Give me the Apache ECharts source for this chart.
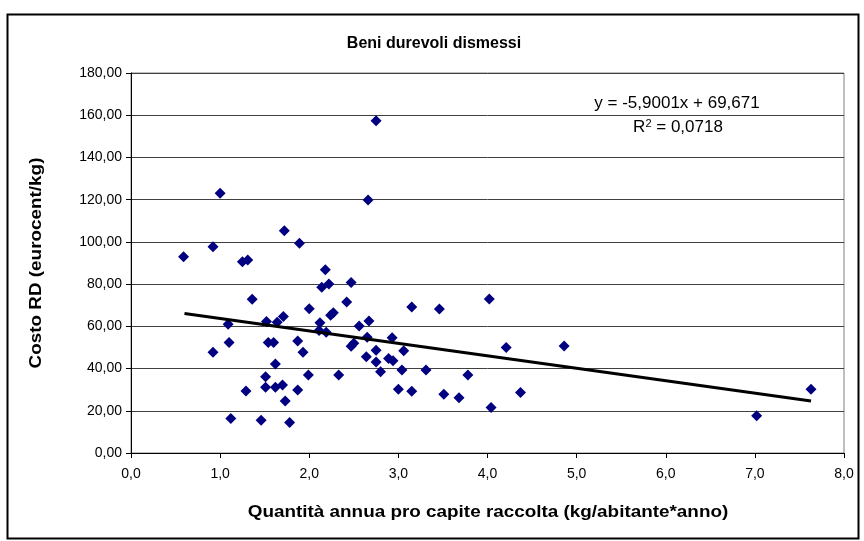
<!DOCTYPE html>
<html>
<head>
<meta charset="utf-8">
<script src="https://cdn.jsdelivr.net/npm/echarts@6/dist/echarts.min.js"></script>
<style>html,body{margin:0;padding:0;background:#fff}#c{width:864px;height:541px}</style>
</head>
<body>
<div id="c"></div>
<script>
// Data
const xValues = [0.59,0.92,1.00,0.92,1.09,1.10,1.12,1.25,1.31,1.29,1.36,1.46,1.51,1.51,1.52,1.54,1.60,1.62,1.62,1.64,1.70,1.71,1.72,1.73,1.78,1.87,1.87,1.89,1.93,1.99,2.00,2.12,2.11,2.19,2.14,2.22,2.18,2.24,2.27,2.33,2.42,2.47,2.47,2.50,2.56,2.65,2.64,2.66,2.67,2.75,2.75,2.75,2.80,2.89,2.94,2.93,3.00,3.04,3.06,3.15,3.15,3.31,3.46,3.51,3.68,3.78,4.02,4.04,4.21,4.37,4.86,7.02,7.63];
const yValues = [93.0,97.7,123.0,47.7,61.0,52.4,16.3,90.6,91.4,29.4,72.8,15.5,36.1,31.1,62.3,52.4,52.4,42.2,31.1,61.9,32.2,64.6,105.3,24.6,14.5,53.1,29.8,99.3,47.7,36.9,68.3,61.7,58.0,57.2,78.5,80.1,86.8,65.3,66.4,36.9,71.5,80.8,50.6,52.0,60.1,54.8,45.6,119.8,62.5,157.4,48.7,43.1,38.5,44.8,43.7,54.6,30.2,39.3,48.4,69.2,29.2,39.3,68.2,27.8,26.2,37.0,73.0,21.6,50.0,28.6,50.7,17.7,30.2];
const trendSlope = -5.9001;
const trendIntercept = 69.671;
const trendRange = [0.6, 7.63];
const xTicks = ['0,0','1,0','2,0','3,0','4,0','5,0','6,0','7,0','8,0'];
const yTicks = ['0,00','20,00','40,00','60,00','80,00','100,00','120,00','140,00','160,00','180,00'];
const chartTitle = 'Beni durevoli dismessi';
const xName = 'Quantità annua pro capite raccolta (kg/abitante*anno)';
const yName = 'Costo RD (eurocent/kg)';
const eqText = 'y = -5,9001x + 69,671';
const r2Text = '0,0718';

const points = xValues.map((x, i) => [x, yValues[i]]);
const trend = trendRange.map(x => [x, trendSlope * x + trendIntercept]);

const chart = echarts.init(document.getElementById('c'), null, {renderer: 'canvas'});
const font = 'Liberation Sans, Arial, sans-serif';
chart.setOption({
  animation: false,
  backgroundColor: '#fff',
  grid: {left: 131, top: 73, width: 713, height: 380, show: true, borderColor: '#808080', borderWidth: 1, containLabel: false},
  xAxis: {
    type: 'value', min: 0, max: 8, interval: 1,
    axisLine: {show: true, onZero: false, lineStyle: {color: '#000', width: 1}},
    axisTick: {show: true, inside: false, length: 5, lineStyle: {color: '#000'}},
    splitLine: {show: false},
    axisLabel: {color: '#000', fontFamily: font, fontSize: 14, margin: 14,
      formatter: v => xTicks[Math.round(v)]}
  },
  yAxis: {
    type: 'value', min: 0, max: 180, interval: 20,
    axisLine: {show: true, onZero: false, lineStyle: {color: '#000', width: 1}},
    axisTick: {show: true, inside: false, length: 5, lineStyle: {color: '#000'}},
    splitLine: {show: true, lineStyle: {color: '#404040', width: 1}},
    axisLabel: {color: '#000', fontFamily: font, fontSize: 14, margin: 9,
      formatter: v => yTicks[Math.round(v / 20)]}
  },
  series: [
    {type: 'scatter', data: points, symbol: 'diamond', symbolSize: 11,
     itemStyle: {color: '#000080', opacity: 1}, z: 2},
    {type: 'line', data: trend, showSymbol: false, symbol: 'none',
     lineStyle: {color: '#000', width: 3}, z: 3, silent: true}
  ],
  graphic: [
    {type: 'rect', shape: {x: 7.5, y: 14.5, width: 851, height: 524}, style: {fill: 'none', stroke: '#000', lineWidth: 2}, z: -10},
    {type: 'text', x: 434, y: 44, style: {text: chartTitle, font: 'bold 16px Liberation Sans, Arial, sans-serif', fill: '#000', textAlign: 'center', textVerticalAlign: 'middle'}},
    {type: 'text', x: 488, y: 513, scaleX: 1.18, style: {text: xName, font: 'bold 16px Liberation Sans, Arial, sans-serif', fill: '#000', textAlign: 'center', textVerticalAlign: 'middle'}},
    {type: 'text', x: 37, y: 263, rotation: Math.PI / 2, scaleX: 1.18, style: {text: yName, font: 'bold 16px Liberation Sans, Arial, sans-serif', fill: '#000', textAlign: 'center', textVerticalAlign: 'middle'}},
    {type: 'text', x: 677, y: 103, style: {text: eqText, font: '17px Liberation Sans, Arial, sans-serif', fill: '#000', textAlign: 'center', textVerticalAlign: 'middle'}},
    {type: 'text', x: 678, y: 127, style: {
      text: '{n|R}{s|2}{n| = ' + r2Text + '}', textAlign: 'center', textVerticalAlign: 'middle',
      rich: {n: {font: '17px Liberation Sans, Arial, sans-serif', fill: '#000', verticalAlign: 'bottom'},
             s: {font: '11px Liberation Sans, Arial, sans-serif', fill: '#000', verticalAlign: 'top', padding: [0,0,7,0]}}
    }}
  ]
});
</script>
</body>
</html>
